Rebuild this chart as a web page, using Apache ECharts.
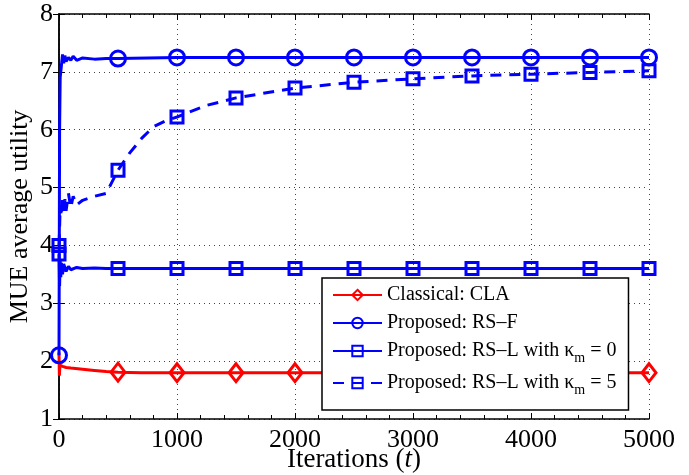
<!DOCTYPE html>
<html>
<head>
<meta charset="utf-8">
<script src="https://cdn.jsdelivr.net/npm/echarts@6/dist/echarts.min.js"></script>
<style>
  html, body { margin: 0; padding: 0; background: #fff; }
  #chart { width: 689px; height: 475px; }
</style>
</head>
<body>
<div id="chart"></div>
<script>
// 数据
var tCla = [0, 3, 8, 15, 30, 60, 100, 200, 300, 400, 500, 700, 1000, 1500, 2000, 2500, 3000, 3500, 4000, 4500, 5000];
var yCla = [2.15, 1.75, 1.93, 1.9, 1.91, 1.89, 1.88, 1.86, 1.84, 1.82, 1.81, 1.8, 1.8, 1.8, 1.8, 1.8, 1.8, 1.8, 1.8, 1.8, 1.8];

var tRsf = [0, 5, 10, 20, 30, 40, 50, 60, 80, 100, 120, 150, 200, 300, 400, 500, 1000, 1500, 2000, 2500, 3000, 3500, 4000, 4500, 5000];
var yRsf = [2.1, 6.0, 6.9, 7.1, 7.3, 7.15, 7.28, 7.18, 7.25, 7.2, 7.27, 7.2, 7.24, 7.22, 7.23, 7.23, 7.25, 7.25, 7.25, 7.25, 7.25, 7.25, 7.25, 7.25, 7.25];

var tK0 = [0, 5, 10, 15, 20, 30, 40, 60, 80, 100, 150, 200, 300, 400, 500, 1000, 1500, 2000, 2500, 3000, 3500, 4000, 4500, 5000];
var yK0 = [3.85, 3.3, 3.75, 3.45, 3.7, 3.5, 3.68, 3.55, 3.64, 3.58, 3.62, 3.6, 3.61, 3.6, 3.6, 3.6, 3.6, 3.6, 3.6, 3.6, 3.6, 3.6, 3.6, 3.6];

var tK5 = [0, 5, 10, 20, 30, 40, 50, 60, 80, 100, 120, 150, 200, 300, 400, 500, 600, 700, 800, 900, 1000, 1250, 1500, 2000, 2500, 3000, 3500, 4000, 4500, 5000];
var yK5 = [4.0, 4.3, 4.7, 4.5, 4.85, 4.55, 4.8, 4.6, 4.9, 4.65, 4.85, 4.7, 4.78, 4.85, 4.9, 5.3, 5.6, 5.85, 6.05, 6.15, 6.22, 6.42, 6.55, 6.72, 6.82, 6.88, 6.93, 6.96, 6.99, 7.02];

var seriesNames = ['Classical: CLA', 'Proposed: RS\u2013F', 'Proposed: RS\u2013L with \u03ba_m = 0', 'Proposed: RS\u2013L with \u03ba_m = 5'];

var FONT = '"Liberation Serif", "DejaVu Serif", serif';

// markers every 500 iterations only
function mkData(ts, ys, firstMark) {
  var out = [];
  for (var i = 0; i < ts.length; i++) {
    var item = { value: [ts[i], ys[i]] };
    if (ts[i] % 500 !== 0 || ts[i] < firstMark) item.symbol = 'none';
    out.push(item);
  }
  return out;
}

function mkSeries(name, ts, ys, color, symbol, size, dashed, firstMark) {
  return {
    name: name,
    type: 'line',
    data: mkData(ts, ys, firstMark),
    symbol: symbol,
    symbolSize: size,
    showSymbol: true,
    animation: false,
    lineStyle: { color: color, width: 3, type: dashed ? [11, 8] : 'solid' },
    itemStyle: { color: 'rgba(255,255,255,0)', borderColor: color, borderWidth: 3 }
  };
}

var myChart = echarts.init(document.getElementById('chart'));

var dotted = { show: true, lineStyle: { color: '#444', type: [1, 4], width: 1 } };

option = {
  backgroundColor: '#fff',
  textStyle: { fontFamily: FONT },
  grid: { left: 59, right: 40, top: 14, bottom: 56, outerBoundsMode: 'none' },
  legend: {
    orient: 'vertical',
    left: 322,
    top: 278,
    width: 308,
    padding: [7, 12, 13, 10],
    itemWidth: 49,
    itemHeight: 13,
    itemGap: 8,
    backgroundColor: '#fff',
    borderColor: '#000',
    borderWidth: 1.5,
    data: seriesNames,
    formatter: function (name) {
      if (name.indexOf('\u03ba_m') >= 0) {
        var parts = name.split('\u03ba_m');
        return '{a|' + parts[0] + '\u03ba}{s|m}{a|' + parts[1] + '}';
      }
      return '{a|' + name + '}';
    },
    textStyle: {
      fontFamily: FONT,
      fontSize: 20,
      color: '#000',
      rich: {
        a: { fontFamily: FONT, fontSize: 20, color: '#000' },
        s: { fontFamily: FONT, fontSize: 14, color: '#000', verticalAlign: 'bottom', padding: [14, 0, 0, 0] }
      }
    }
  },
  xAxis: [{
    type: 'value',
    min: 0, max: 5000, interval: 1000,
    name: '{n|Iterations (}{i|t}{n|)}',
    nameLocation: 'middle',
    nameGap: 27,
    nameMoveOverlap: false,
    nameTextStyle: {
      rich: {
        n: { fontFamily: FONT, fontSize: 27, color: '#000' },
        i: { fontFamily: FONT, fontSize: 27, color: '#000', fontStyle: 'italic' }
      }
    },
    axisLine: { show: true, lineStyle: { color: '#000', width: 1.5 } },
    axisTick: { show: true, inside: true, length: 6, lineStyle: { color: '#000' } },
    minorTick: { show: true, splitNumber: 5, length: 4, lineStyle: { color: '#000' } },
    axisLabel: {
      fontFamily: FONT, fontSize: 26, color: '#000', margin: 8,
      formatter: function (v) { return String(v); }
    },
    splitLine: dotted
  }, {
    type: 'value',
    position: 'top',
    min: 0, max: 5000, interval: 1000,
    axisLine: { show: true, lineStyle: { color: '#000', width: 1.5 } },
    axisTick: { show: true, inside: true, length: 6, lineStyle: { color: '#000' } },
    minorTick: { show: true, splitNumber: 5, length: 4, lineStyle: { color: '#000' } },
    axisLabel: { show: false },
    splitLine: { show: false }
  }],
  yAxis: [{
    type: 'value',
    min: 1, max: 8, interval: 1,
    name: 'MUE average utility',
    nameLocation: 'middle',
    nameGap: 26,
    nameMoveOverlap: false,
    nameTextStyle: { fontFamily: FONT, fontSize: 26, color: '#000' },
    axisLine: { show: true, lineStyle: { color: '#000', width: 1.5 } },
    axisTick: { show: true, inside: true, length: 6, lineStyle: { color: '#000' } },
    axisLabel: { fontFamily: FONT, fontSize: 26, color: '#000', margin: 6 },
    splitLine: dotted
  }, {
    type: 'value',
    position: 'right',
    min: 1, max: 8, interval: 1,
    axisLine: { show: true, lineStyle: { color: '#000', width: 1.5 } },
    axisTick: { show: true, inside: true, length: 6, lineStyle: { color: '#000' } },
    axisLabel: { show: false },
    splitLine: { show: false }
  }],
  series: [
    mkSeries(seriesNames[0], tCla, yCla, '#ff0000', 'diamond', [14, 18], false, 500),
    mkSeries(seriesNames[1], tRsf, yRsf, '#0000ff', 'circle', 15, false, 0),
    mkSeries(seriesNames[2], tK0, yK0, '#0000ff', 'rect', 12, false, 0),
    mkSeries(seriesNames[3], tK5, yK5, '#0000ff', 'rect', 12, true, 0)
  ]
};

myChart.setOption(option);
</script>
</body>
</html>
